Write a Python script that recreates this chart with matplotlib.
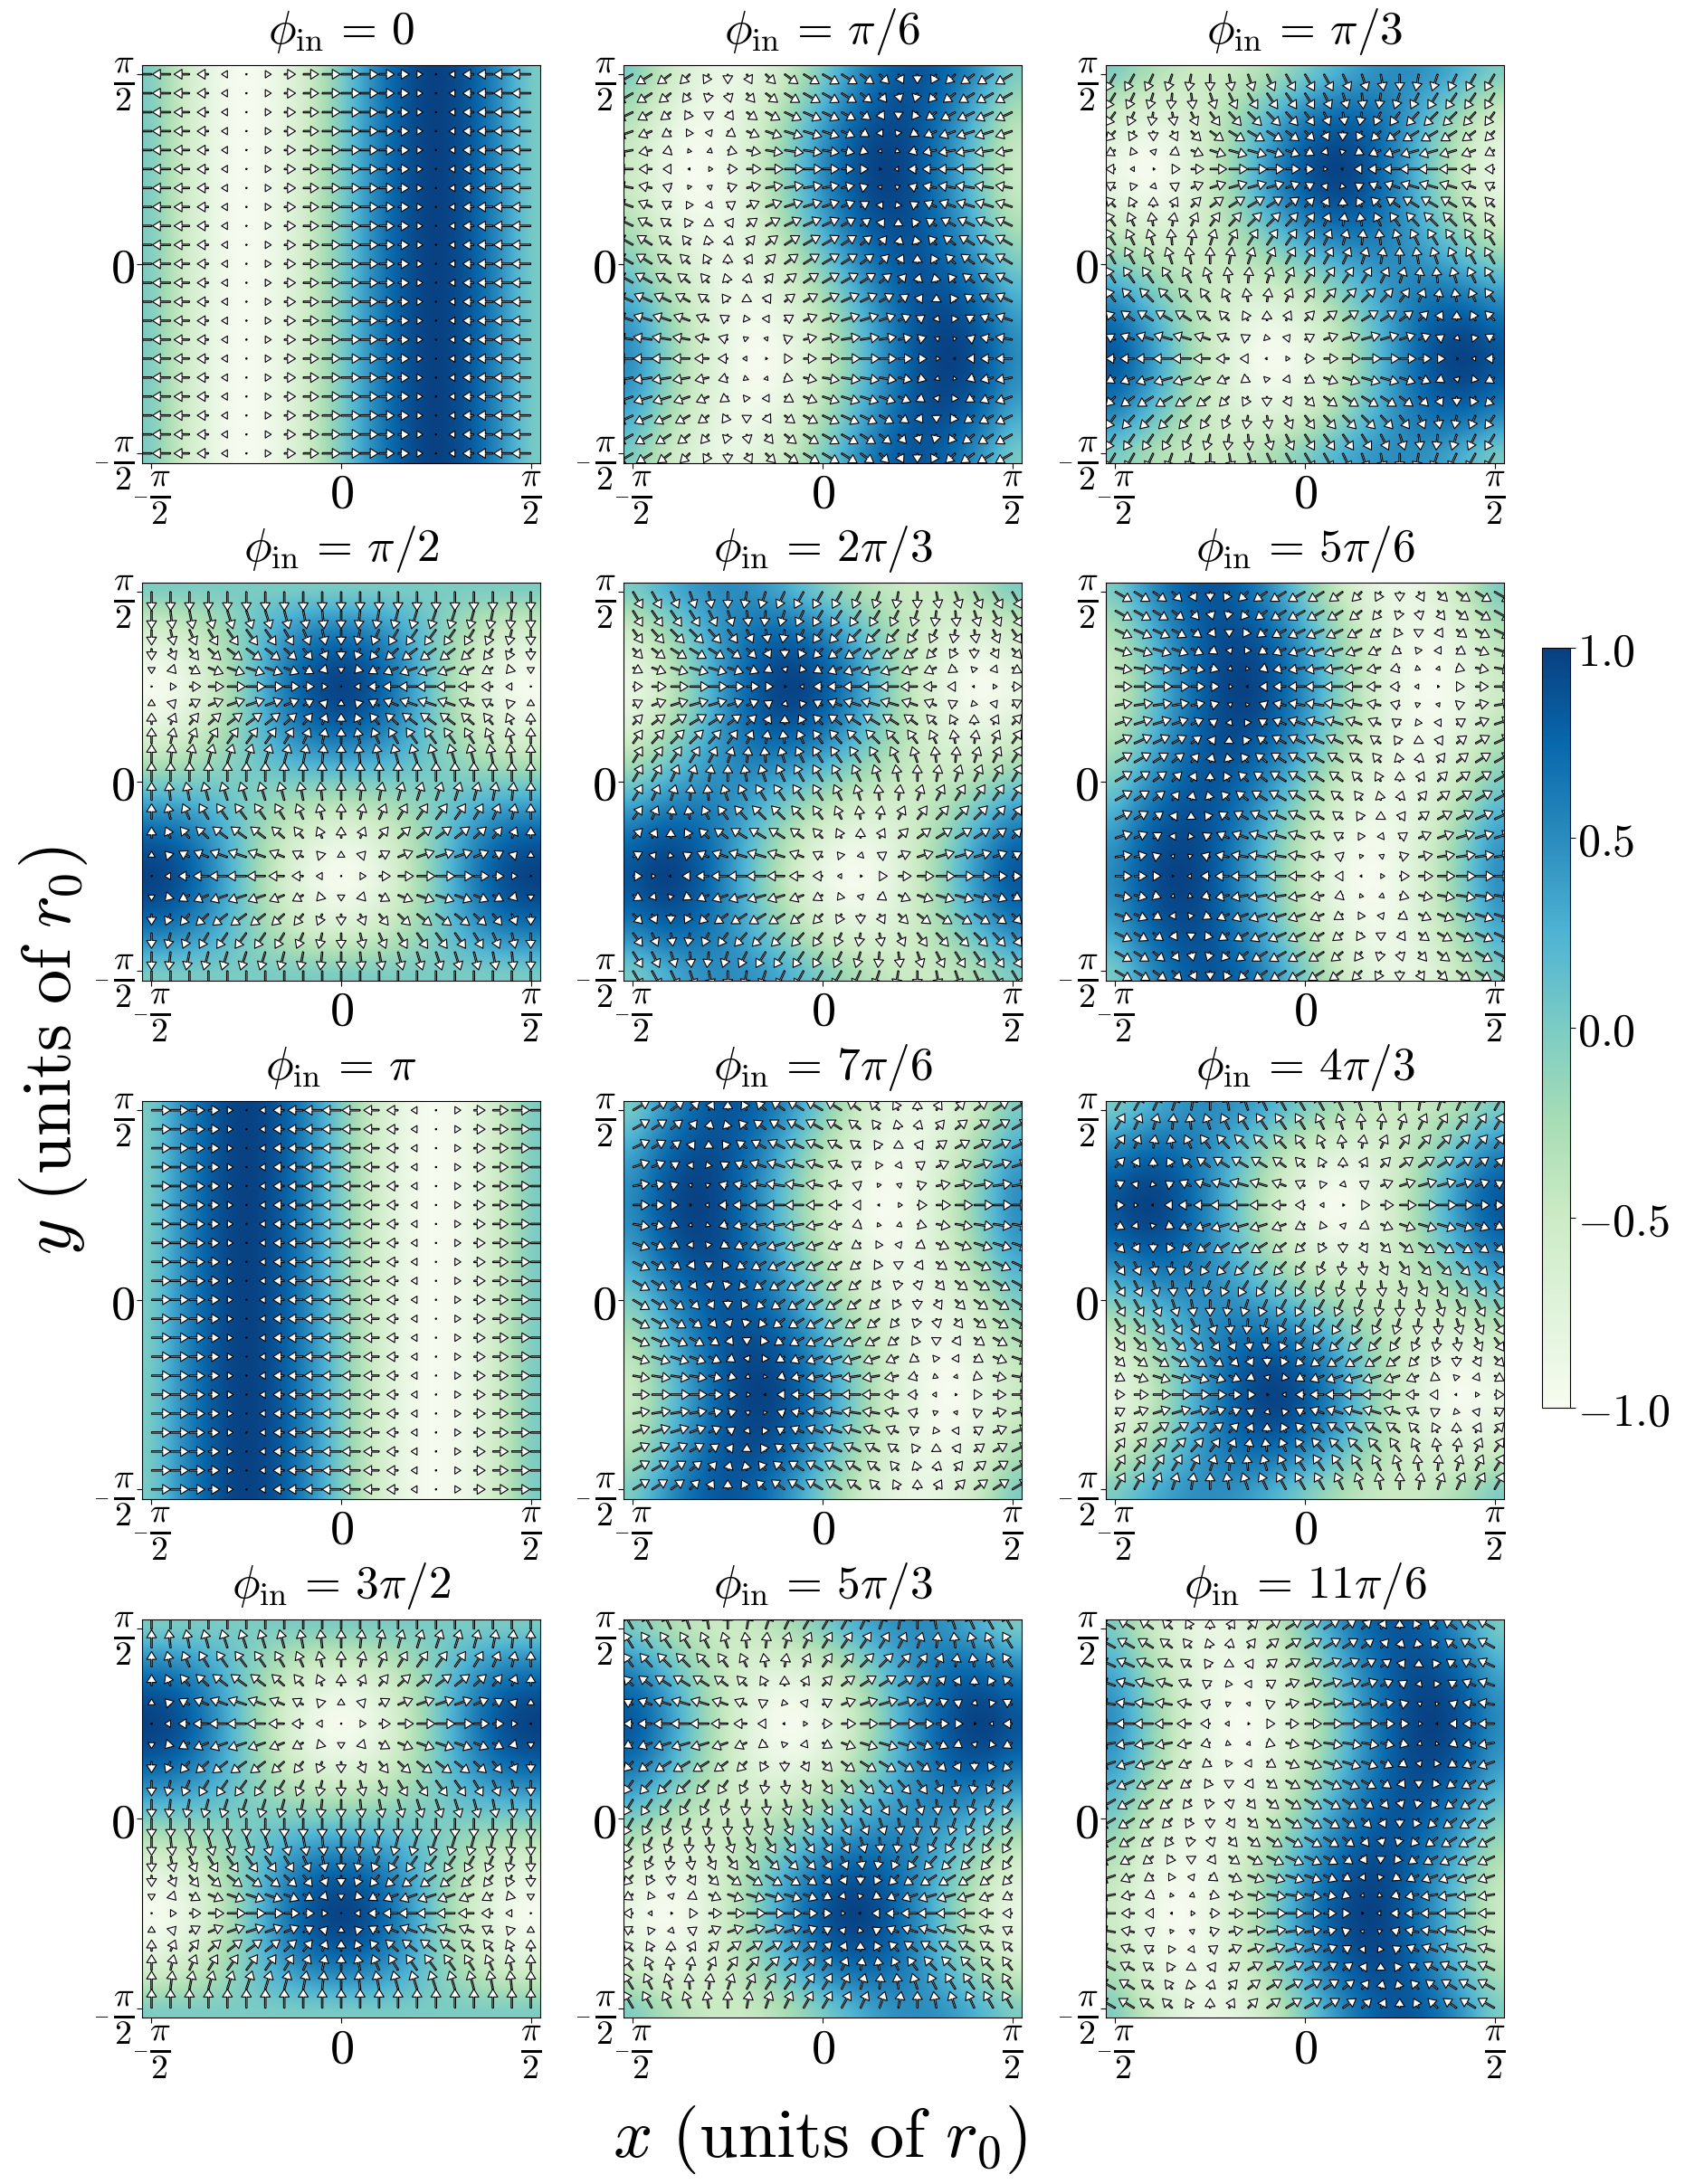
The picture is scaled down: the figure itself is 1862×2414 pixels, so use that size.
import numpy as np
import matplotlib
matplotlib.use("Agg")
import matplotlib.pyplot as plt
from matplotlib.transforms import ScaledTranslation

plt.rcParams['mathtext.fontset'] = 'cm'
plt.rcParams['font.family'] = 'serif'
plt.rcParams['font.serif'] = ['DejaVu Serif']
plt.rcParams['axes.unicode_minus'] = False

# All values are estimates in percent of full scale, not measured data. Sign and
# node positions were read off the panels, the in-between values were rounded off
# a smooth pattern fitted by eye to those readings.
# Blocks: 6 rows from the top edge down to y=pi/4, 11 columns from x=-pi/2 to x=0.
# The rest of each panel comes from the repeats seen in the picture (see unfold).
u_0_cols = [-100, -95, -81, -59, -31, 0, 31, 59, 81, 95, 100]
c_0_cols = [0, -31, -59, -81, -95, -100, -95, -81, -59, -31, 0]
v_0 = [0] * 21

u_pi6 = [[-87, -82, -70, -51, -27, 0, 27, 51, 70, 82, 87],
         [-87, -78, -61, -38, -12, 15, 42, 63, 79, 87, 87],
         [-87, -73, -53, -27, 1, 29, 55, 75, 87, 92, 87],
         [-87, -70, -46, -18, 12, 40, 65, 84, 94, 95, 87],
         [-87, -68, -42, -12, 18, 48, 72, 89, 98, 97, 87],
         [-87, -67, -41, -10, 21, 50, 74, 91, 100, 98, 87]]
c_pi6 = [[0, -27, -51, -70, -82, -87, -82, -70, -51, -27, 0],
         [-15, -42, -63, -79, -87, -87, -78, -61, -38, -12, 15],
         [-29, -55, -75, -87, -92, -87, -73, -53, -27, 1, 29],
         [-40, -65, -84, -94, -95, -87, -70, -46, -18, 12, 40],
         [-48, -72, -89, -98, -97, -87, -68, -42, -12, 18, 48],
         [-50, -74, -91, -100, -98, -87, -67, -41, -10, 21, 50]]
v_pi6 = [-50, -48, -40, -29, -15, 0, 15, 29, 40, 48, 50, 48, 40, 29, 15, 0, -15, -29, -40, -48, -50]

u_pi3 = [[-50, -48, -40, -29, -15, 0, 15, 29, 40, 48, 50],
         [-50, -39, -25, -8, 10, 27, 41, 51, 56, 56, 50],
         [-50, -32, -11, 12, 33, 51, 64, 71, 70, 63, 50],
         [-50, -26, 1, 27, 51, 70, 82, 86, 82, 69, 50],
         [-50, -22, 8, 37, 63, 82, 94, 96, 89, 73, 50],
         [-50, -21, 10, 41, 67, 87, 98, 100, 91, 74, 50]]
c_pi3 = [[0, -15, -29, -40, -48, -50, -48, -40, -29, -15, 0],
         [-27, -41, -51, -56, -56, -50, -39, -25, -8, 10, 27],
         [-51, -64, -71, -70, -63, -50, -32, -11, 12, 33, 51],
         [-70, -82, -86, -82, -69, -50, -26, 1, 27, 51, 70],
         [-82, -94, -96, -89, -73, -50, -22, 8, 37, 63, 82],
         [-87, -98, -100, -91, -74, -50, -21, 10, 41, 67, 87]]
v_pi3 = [-87, -82, -70, -51, -27, 0, 27, 51, 70, 82, 87, 82, 70, 51, 27, 0, -27, -51, -70, -82, -87]

u_pi2 = [[0, 0, 0, 0, 0, 0, 0, 0, 0, 0, 0],
         [0, 10, 18, 25, 29, 31, 29, 25, 18, 10, 0],
         [0, 18, 35, 48, 56, 59, 56, 48, 35, 18, 0],
         [0, 25, 48, 65, 77, 81, 77, 65, 48, 25, 0],
         [0, 29, 56, 77, 90, 95, 90, 77, 56, 29, 0],
         [0, 31, 59, 81, 95, 100, 95, 81, 59, 31, 0]]
c_pi2 = [[0, 0, 0, 0, 0, 0, 0, 0, 0, 0, 0],
         [-31, -29, -25, -18, -10, 0, 10, 18, 25, 29, 31],
         [-59, -56, -48, -35, -18, 0, 18, 35, 48, 56, 59],
         [-81, -77, -65, -48, -25, 0, 25, 48, 65, 77, 81],
         [-95, -90, -77, -56, -29, 0, 29, 56, 77, 90, 95],
         [-100, -95, -81, -59, -31, 0, 31, 59, 81, 95, 100]]
v_pi2 = [-100, -95, -81, -59, -31, 0, 31, 59, 81, 95, 100, 95, 81, 59, 31, 0, -31, -59, -81, -95, -100]

titles = ['0', r'\pi/6', r'\pi/3', r'\pi/2', r'2\pi/3', r'5\pi/6',
          r'\pi', r'7\pi/6', r'4\pi/3', r'3\pi/2', r'5\pi/3', r'11\pi/6']
cbar_ticks = [-1.0, -0.5, 0.0, 0.5, 1.0]
cbar_labels = ['$-1.0$', '$-0.5$', '$0.0$', '$0.5$', '$1.0$']


def unfold(block, sign):
    # mirror about y=pi/4, flip sign over half the width, point mirror for the lower half
    rows = np.array(block)[[0, 1, 2, 3, 4, 5, 4, 3, 2, 1, 0]]
    top = np.hstack([rows, -rows[:, 1:]])
    return np.vstack([top, sign * top[9::-1, ::-1]])


def panel(u_block, c_block, v_rows):
    v = np.tile(np.array(v_rows)[:, None], (1, 21))
    return unfold(u_block, 1), v, unfold(c_block, -1)


p0 = panel([u_0_cols] * 6, [c_0_cols] * 6, v_0)
p1 = panel(u_pi6, c_pi6, v_pi6)
p2 = panel(u_pi3, c_pi3, v_pi3)
p3 = panel(u_pi2, c_pi2, v_pi2)
# 2pi/3 and 5pi/6 mirror pi/3 and pi/6 left to right
p4 = (-p2[0][:, ::-1], p2[1], p2[2][:, ::-1])
p5 = (-p1[0][:, ::-1], p1[1], p1[2][:, ::-1])
first_half = [p0, p1, p2, p3, p4, p5]
# second half is the first one with arrows and colours reversed
panels = first_half + [(-a, -b, -c) for a, b, c in first_half]

W, H = 1862, 2414
fig = plt.figure(figsize=(W / 100, H / 100), dpi=100)

lefts = [157, 689, 1222]
tops = [71.6, 643.6, 1216.7, 1790]
size = 440

grid = np.linspace(-np.pi / 2, np.pi / 2, 21)
X, Y = np.meshgrid(grid, grid[::-1])
lim = np.pi / 2 + np.pi / 40
pi_ticks = [-np.pi / 2, 0, np.pi / 2]
pi_labels = [r'$\frac{\pi}{2}$', '$0$', r'$\frac{\pi}{2}$']
px = 0.72  # points per pixel at dpi 100

for k in range(12):
    u, v, c = panels[k]
    l = lefts[k % 3]
    t = tops[k // 3]
    ax = fig.add_axes([l / W, 1 - (t + size) / H, size / W, size / H])
    im = ax.imshow(c / 100, cmap='GnBu', vmin=-1, vmax=1, origin='upper', aspect='auto',
                   extent=(-lim, lim, -lim, lim), interpolation='bicubic')
    ax.quiver(X, Y, u, v, angles='xy', scale_units='xy', scale=100 / (np.pi / 20),
              units='dots', width=1.5, headwidth=7.2, headlength=5.8, headaxislength=5.8,
              color='white', edgecolor='k', linewidth=0.8)
    ax.set_xlim(-lim, lim)
    ax.set_ylim(-lim, lim)
    ax.set_xticks(pi_ticks)
    ax.set_xticklabels(pi_labels)
    ax.set_yticks(pi_ticks)
    ax.set_yticklabels(pi_labels)
    ax.tick_params(labelsize=39, length=4, width=0.8, pad=2)
    # the lower pi/2 labels carry a small minus sign of their own, as in the reference
    lab = ax.get_xticklabels()[0]
    lab.set_transform(lab.get_transform() + ScaledTranslation(9 / 100, 0, fig.dpi_scale_trans))
    ax.annotate('$-$', xy=(-np.pi / 2, 0), xycoords=ax.get_xaxis_transform(),
                xytext=(-13 * px, -35.5 * px), textcoords='offset points',
                fontsize=16, ha='center', va='center', annotation_clip=False)
    ax.annotate('$-$', xy=(0, -np.pi / 2), xycoords=ax.get_yaxis_transform(),
                xytext=(-45 * px, -8 * px), textcoords='offset points',
                fontsize=16, ha='center', va='center', annotation_clip=False)
    ax.set_title(r'$\phi_{\rm in}\,=\,' + titles[k] + '$', fontsize=37, pad=17)

cax = fig.add_axes([1704 / W, 1 - 1556 / H, 31 / W, 840 / H])
cb = fig.colorbar(im, cax=cax, ticks=cbar_ticks)
cb.ax.set_yticklabels(cbar_labels)
cb.ax.tick_params(labelsize=36, length=4, width=0.8, pad=2)

fig.text(906 / W, 1 - 2365 / H, r'$x\ (\mathrm{units\ of}\ r_0)$', fontsize=55, ha='center', va='center')
fig.text(59 / W, 1 - 1161 / H, r'$y\ (\mathrm{units\ of}\ r_0)$', fontsize=55, ha='center', va='center', rotation=90)

fig.savefig('out.png', dpi=100)
